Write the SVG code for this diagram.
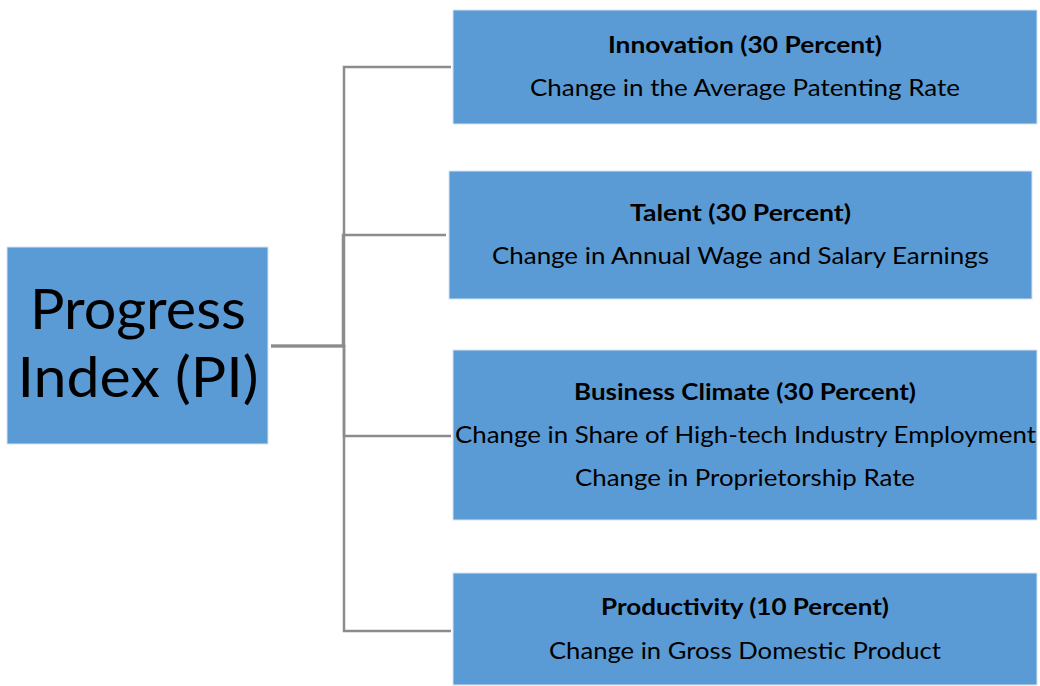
<svg xmlns="http://www.w3.org/2000/svg" width="1040" height="686" viewBox="0 0 1040 686">
  <style>
    .box { fill: #5B9BD5; stroke: #D6E4F2; stroke-width: 1; }
    .conn { fill: none; stroke: #8C8C8C; stroke-width: 2.5; }
    text { font-family: Lato, "Open Sans", "Liberation Sans", sans-serif; fill: #000; text-anchor: middle; }
    .big { font-size: 56px; }
    .title { font-size: 23px; font-weight: bold; }
    .line { font-size: 23px; }
  </style>
  <rect width="1040" height="686" fill="#fff"/>

  <!-- connectors: elbow lines from the index box to each component -->
  <g id="connectors">
    <path class="conn" d="M271,346 H344 V67 H451"/>
    <path class="conn" d="M271,346 H343 V235 H446"/>
    <path class="conn" d="M271,346 H344 V436 H451"/>
    <path class="conn" d="M271,346 H344 V631 H451"/>
  </g>

  <g id="progress-index">
    <rect class="box" x="7" y="247" width="261" height="197"/>
    <text class="big" x="138" y="329" textLength="216" lengthAdjust="spacingAndGlyphs">Progress</text>
    <text class="big" x="138" y="397" textLength="241" lengthAdjust="spacingAndGlyphs">Index (PI)</text>
  </g>

  <g id="innovation">
    <rect class="box" x="453" y="10" width="584" height="114"/>
    <text class="title" x="745" y="53" textLength="274" lengthAdjust="spacingAndGlyphs">Innovation (30 Percent)</text>
    <text class="line" x="745" y="96" textLength="430" lengthAdjust="spacingAndGlyphs">Change in the Average Patenting Rate</text>
  </g>

  <g id="talent">
    <rect class="box" x="449" y="171" width="583" height="128"/>
    <text class="title" x="740.5" y="221" textLength="221" lengthAdjust="spacingAndGlyphs">Talent (30 Percent)</text>
    <text class="line" x="740.5" y="264" textLength="497" lengthAdjust="spacingAndGlyphs">Change in Annual Wage and Salary Earnings</text>
  </g>

  <g id="business-climate">
    <rect class="box" x="453" y="350" width="584" height="170"/>
    <text class="title" x="745" y="400" textLength="342" lengthAdjust="spacingAndGlyphs">Business Climate (30 Percent)</text>
    <text class="line" x="745.5" y="443" textLength="581" lengthAdjust="spacingAndGlyphs">Change in Share of High-tech Industry Employment</text>
    <text class="line" x="745" y="486" textLength="340" lengthAdjust="spacingAndGlyphs">Change in Proprietorship Rate</text>
  </g>

  <g id="productivity">
    <rect class="box" x="453" y="573" width="584" height="112"/>
    <text class="title" x="745" y="615" textLength="288" lengthAdjust="spacingAndGlyphs">Productivity (10 Percent)</text>
    <text class="line" x="745" y="659" textLength="392" lengthAdjust="spacingAndGlyphs">Change in Gross Domestic Product</text>
  </g>
</svg>
